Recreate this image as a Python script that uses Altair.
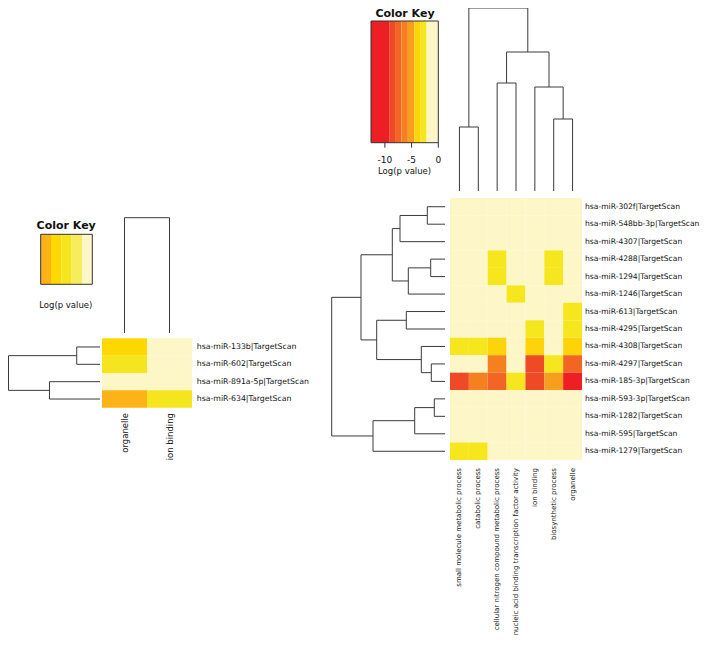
import altair as alt
import pandas as pd

# ---------------- data ----------------
right_rows = [
    "hsa-miR-302f|TargetScan", "hsa-miR-548bb-3p|TargetScan", "hsa-miR-4307|TargetScan",
    "hsa-miR-4288|TargetScan", "hsa-miR-1294|TargetScan", "hsa-miR-1246|TargetScan",
    "hsa-miR-613|TargetScan", "hsa-miR-4295|TargetScan", "hsa-miR-4308|TargetScan",
    "hsa-miR-4297|TargetScan", "hsa-miR-185-3p|TargetScan", "hsa-miR-593-3p|TargetScan",
    "hsa-miR-1282|TargetScan", "hsa-miR-595|TargetScan", "hsa-miR-1279|TargetScan",
]
right_cols = [
    "small molecule metabolic process", "catabolic process",
    "cellular nitrogen compound metabolic process",
    "nucleic acid binding transcription factor activity",
    "ion binding", "biosynthetic process", "organelle",
]
right_logp = [
    [-1, -1, -1, -1, -1, -1, -1],
    [-1, -1, -1, -1, -1, -1, -1],
    [-1, -1, -1, -1, -1, -1, -1],
    [-1, -1, -2.8, -1, -1, -2.8, -1],
    [-1, -1, -2.8, -1, -1, -2.8, -1],
    [-1, -1, -1, -2.8, -1, -1, -1],
    [-1, -1, -1, -1, -1, -1, -2.8],
    [-1, -1, -1, -1, -2.8, -1, -2.8],
    [-2.8, -2.8, -4.0, -1, -4.0, -1, -4.0],
    [-1, -1, -6.3, -1, -8.6, -2.8, -7.5],
    [-8.6, -6.3, -7.5, -2.8, -8.6, -5.1, -10.5],
    [-1, -1, -1, -1, -1, -1, -1],
    [-1, -1, -1, -1, -1, -1, -1],
    [-1, -1, -1, -1, -1, -1, -1],
    [-2.8, -2.8, -1, -1, -1, -1, -1],
]
right_breaks = [-9.2, -8.1, -6.9, -5.7, -4.5, -3.4, -2.2]
right_colors = ["#ED1F24", "#EF4A26", "#F26524", "#F58020", "#F99E1C", "#FDD40A", "#F5E61E", "#FDF6C6"]
right_key_range = [-12.6, 0]
right_key_ticks = [-10, -5, 0]
# merges: (child a, child b, height); ints = leaves, "mK" = K-th merge
right_col_tree = [(0, 1, 64), (2, 3, 108), (5, 6, 72), (4, "m2", 104), ("m1", "m3", 139), ("m0", "m4", 183)]
right_row_tree = [
    (0, 1, 17.7), ("m0", 2, 45), (3, 4, 14.3), ("m2", 5, 36.7), ("m1", "m3", 52.7),
    (6, 7, 38.7), (9, 10, 13.7), (8, "m6", 23.7), ("m5", "m7", 68.3), ("m4", "m8", 84),
    (11, 12, 10.7), ("m10", 13, 30.3), ("m11", 14, 72), ("m9", "m12", 113.3),
]

left_rows = ["hsa-miR-133b|TargetScan", "hsa-miR-602|TargetScan",
             "hsa-miR-891a-5p|TargetScan", "hsa-miR-634|TargetScan"]
left_cols = ["organelle", "ion binding"]
left_logp = [[-3.5, -0.5], [-2.5, -0.5], [-0.5, -0.5], [-4.5, -2.5]]
left_breaks = [-4, -3, -2, -1]
left_colors = ["#FBB317", "#FFD800", "#F5E51E", "#F7EC5E", "#FDF6C6"]
left_key_range = [-5, 0]
left_col_tree = [(0, 1, 115.3)]
left_row_tree = [(0, 1, 25), (2, 3, 54.3), ("m0", "m1", 98.3)]

FONT = "DejaVu Sans"
LINE = "#3a3a3a"


def dendro(tree):
    pos, hgt, segs = {}, {}, []

    def node(k):
        if isinstance(k, int):
            return float(k), 0.0
        return pos[k], hgt[k]

    for i, (a, b, h) in enumerate(tree):
        pa, ha = node(a)
        pb, hb = node(b)
        segs += [dict(p1=pa, p2=pa, h1=ha, h2=h), dict(p1=pb, p2=pb, h1=hb, h2=h),
                 dict(p1=pa, p2=pb, h1=h, h2=h)]
        pos[f"m{i}"] = (pa + pb) / 2
        hgt[f"m{i}"] = h
    return pd.DataFrame(segs)


def matrix_df(rows, cols, vals):
    return pd.DataFrame([dict(row=r, col=c, v=vals[i][j]) for i, r in enumerate(rows) for j, c in enumerate(cols)])


def key_df(rng, breaks):
    edges = [rng[0]] + breaks + [rng[1]]
    return pd.DataFrame([dict(lo=edges[i], hi=edges[i + 1], mid=(edges[i] + edges[i + 1]) / 2)
                         for i in range(len(edges) - 1)])


def lin(domain, rng):
    return alt.Scale(domain=domain, range=rng, nice=False, zero=False)


def band(domain, rng):
    return alt.Scale(domain=domain, range=rng, paddingInner=0, paddingOuter=0)


layers = []

# ---------- right heatmap ----------
R_X = [442, 574]
R_Y = [190, 452]
rdf = matrix_df(right_rows, right_cols, right_logp)
r_color = alt.Scale(type="threshold", domain=right_breaks, range=right_colors)
layers.append(alt.Chart(rdf).mark_rect(strokeWidth=0).encode(
    x=alt.X("col:N", scale=band(right_cols, R_X), axis=None),
    y=alt.Y("row:N", scale=band(right_rows, R_Y), axis=None),
    color=alt.Color("v:Q", scale=r_color, legend=None),
))
layers.append(alt.Chart(pd.DataFrame({"row": right_rows})).mark_text(
    align="left", baseline="middle", font=FONT, fontSize=7.6, color="#111").encode(
    y=alt.Y("row:N", scale=band(right_rows, R_Y), axis=None),
    x=alt.value(577), text="row:N"))
layers.append(alt.Chart(pd.DataFrame({"col": right_cols})).mark_text(
    align="right", baseline="middle", angle=270, font=FONT, fontSize=7.0, color="#111").encode(
    x=alt.X("col:N", scale=band(right_cols, R_X), axis=None),
    y=alt.value(460), text="col:N"))
# column dendrogram
layers.append(alt.Chart(dendro(right_col_tree)).mark_rule(color=LINE, strokeWidth=1).encode(
    x=alt.X("p1:Q", scale=lin([-0.5, len(right_cols) - 0.5], R_X), axis=None), x2="p2:Q",
    y=alt.Y("h1:Q", scale=lin([0, 183], [183, 0]), axis=None), y2="h2:Q"))
# row dendrogram
layers.append(alt.Chart(dendro(right_row_tree)).mark_rule(color=LINE, strokeWidth=1).encode(
    y=alt.Y("p1:Q", scale=lin([-0.5, len(right_rows) - 0.5], R_Y), axis=None), y2="p2:Q",
    x=alt.X("h1:Q", scale=lin([0, 113.3], [437, 323.7]), axis=None), x2="h2:Q"))

# ---------- right colour key ----------
RK_X = [363, 430.3]
layers.append(alt.Chart(key_df(right_key_range, right_breaks)).mark_rect(strokeWidth=0).encode(
    x=alt.X("lo:Q", scale=lin(right_key_range, RK_X), axis=None), x2="hi:Q",
    y=alt.value(13), y2=alt.value(134.7),
    color=alt.Color("mid:Q", scale=r_color, legend=None)))
layers.append(alt.Chart(pd.DataFrame({"lo": [right_key_range[0]], "hi": [right_key_range[1]]})).mark_rect(
    fill=None, filled=False, stroke="#333", strokeWidth=1).encode(
    x=alt.X("lo:Q", scale=lin(right_key_range, RK_X), axis=None), x2="hi:Q",
    y=alt.value(13), y2=alt.value(134.7)))
tick_df = pd.DataFrame({"t": right_key_ticks, "lab": [str(t) for t in right_key_ticks]})
layers.append(alt.Chart(tick_df).mark_rule(color="#333", strokeWidth=1).encode(
    x=alt.X("t:Q", scale=lin(right_key_range, RK_X), axis=None),
    y=alt.value(134.7), y2=alt.value(139.7)))
layers.append(alt.Chart(tick_df).mark_text(font=FONT, fontSize=9, baseline="middle", color="#111").encode(
    x=alt.X("t:Q", scale=lin(right_key_range, RK_X), axis=None),
    y=alt.value(152), text="lab:N"))
layers.append(alt.Chart(pd.DataFrame({"s": ["Log(p value)"]})).mark_text(
    font=FONT, fontSize=8.5, baseline="middle", color="#111").encode(
    x=alt.value(396.6), y=alt.value(163), text="s:N"))
layers.append(alt.Chart(pd.DataFrame({"s": ["Color Key"]})).mark_text(
    font=FONT, fontSize=11, fontWeight="bold", baseline="alphabetic", color="#111").encode(
    x=alt.value(397), y=alt.value(8.6), text="s:N"))

# ---------- left heatmap ----------
L_X = [94, 184]
L_Y = [330.3, 399.7]
ldf = matrix_df(left_rows, left_cols, left_logp)
l_color = alt.Scale(type="threshold", domain=left_breaks, range=left_colors)
layers.append(alt.Chart(ldf).mark_rect(strokeWidth=0).encode(
    x=alt.X("col:N", scale=band(left_cols, L_X), axis=None),
    y=alt.Y("row:N", scale=band(left_rows, L_Y), axis=None),
    color=alt.Color("v:Q", scale=l_color, legend=None)))
layers.append(alt.Chart(pd.DataFrame({"row": left_rows})).mark_text(
    align="left", baseline="middle", font=FONT, fontSize=7.8, color="#111").encode(
    y=alt.Y("row:N", scale=band(left_rows, L_Y), axis=None),
    x=alt.value(188.7), text="row:N"))
layers.append(alt.Chart(pd.DataFrame({"col": left_cols})).mark_text(
    align="right", baseline="middle", angle=270, font=FONT, fontSize=8.5, color="#111").encode(
    x=alt.X("col:N", scale=band(left_cols, L_X), axis=None),
    y=alt.value(405), text="col:N"))
layers.append(alt.Chart(dendro(left_col_tree)).mark_rule(color=LINE, strokeWidth=1).encode(
    x=alt.X("p1:Q", scale=lin([-0.5, len(left_cols) - 0.5], L_X), axis=None), x2="p2:Q",
    y=alt.Y("h1:Q", scale=lin([0, 115.3], [325, 209.7]), axis=None), y2="h2:Q"))
layers.append(alt.Chart(dendro(left_row_tree)).mark_rule(color=LINE, strokeWidth=1).encode(
    y=alt.Y("p1:Q", scale=lin([-0.5, len(left_rows) - 0.5], L_Y), axis=None), y2="p2:Q",
    x=alt.X("h1:Q", scale=lin([0, 98.3], [92, 0.5]), axis=None), x2="h2:Q"))

# ---------- left colour key ----------
LK_X = [32.7, 84.3]
layers.append(alt.Chart(key_df(left_key_range, left_breaks)).mark_rect(strokeWidth=0).encode(
    x=alt.X("lo:Q", scale=lin(left_key_range, LK_X), axis=None), x2="hi:Q",
    y=alt.value(226.3), y2=alt.value(276.3),
    color=alt.Color("mid:Q", scale=l_color, legend=None)))
layers.append(alt.Chart(pd.DataFrame({"lo": [left_key_range[0]], "hi": [left_key_range[1]]})).mark_rect(
    fill=None, filled=False, stroke="#333", strokeWidth=1).encode(
    x=alt.X("lo:Q", scale=lin(left_key_range, LK_X), axis=None), x2="hi:Q",
    y=alt.value(226.3), y2=alt.value(276.3)))
layers.append(alt.Chart(pd.DataFrame({"s": ["Color Key"]})).mark_text(
    font=FONT, fontSize=11, fontWeight="bold", baseline="alphabetic", color="#111").encode(
    x=alt.value(58.2), y=alt.value(221.3), text="s:N"))
layers.append(alt.Chart(pd.DataFrame({"s": ["Log(p value)"]})).mark_text(
    font=FONT, fontSize=8.5, baseline="middle", color="#111").encode(
    x=alt.value(57.8), y=alt.value(297), text="s:N"))

chart = alt.layer(*layers).resolve_scale(
    x="independent", y="independent", color="independent"
).properties(
    width=693, height=628, autosize=alt.AutoSizeParams(type="none"), padding=0,
    background="white",
).configure_view(stroke=None)

chart.save("out.html", embed_options={"renderer": "svg", "actions": False})
